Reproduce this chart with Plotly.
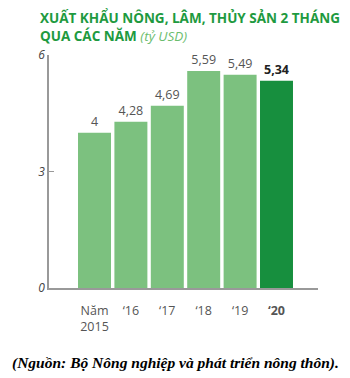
import plotly.graph_objects as go

categories = ["Năm<br>2015", "‘16", "‘17", "‘18", "‘19", "<b>‘20</b>"]
values = [4, 4.28, 4.69, 5.59, 5.49, 5.34]
y_ticks = [0, 3, 6]

light = "#7cc17f"
dark = "#178f3e"
colors = [light] * 5 + [dark]
texts = [f"{v:g}".replace(".", ",") for v in values]
texts[-1] = f"<b>{texts[-1]}</b>"
text_colors = ["#555555"] * 5 + ["#222222"]

fig = go.Figure(go.Bar(
    x=list(range(len(values))),
    y=values,
    marker=dict(color=colors, line=dict(width=0)),
    text=texts,
    textposition="outside",
    textfont=dict(family="Open Sans", size=12.5, color=text_colors),
    cliponaxis=False,
    hoverinfo="skip",
))

PL, PR, PT, PB = 49, 318, 55, 288
W, H = PR - PL, PB - PT

fig.update_layout(
    width=350, height=378,
    margin=dict(l=PL, r=350 - PR, t=PT, b=378 - PB),
    paper_bgcolor="white", plot_bgcolor="white",
    bargap=0.094,
    showlegend=False,
    xaxis=dict(
        range=[-1.25, 6.14],
        tickmode="array", tickvals=list(range(len(values))), ticktext=categories,
        showline=True, linecolor="#999999", linewidth=1.5,
        ticks="", showgrid=False, zeroline=False,
        tickfont=dict(family="Open Sans", size=12.5, color="#555555"),
        ticklabelstandoff=10,
    ),
    yaxis=dict(
        range=[0, 6],
        tickvals=y_ticks, ticktext=[str(t) for t in y_ticks],
        showline=True, linecolor="#999999", linewidth=1.5,
        ticks="inside", ticklen=5, tickcolor="#999999", tickwidth=1,
        showgrid=False, zeroline=False,
        tickfont=dict(family="Open Sans", size=12, color="#444444", style="italic"),
    ),
    annotations=[
        dict(
            text="<b>XUẤT KHẨU NÔNG, LÂM, THỦY SẢN 2 THÁNG<br>QUA CÁC NĂM</b> <i><span style='color:#6bbd6e'>(tỷ USD)</span></i>",
            xref="paper", yref="paper",
            x=(38 - PL) / W, y=(PB - 6) / H,
            xanchor="left", yanchor="top", align="left", showarrow=False,
            font=dict(family="Open Sans", size=13.5, color="#1e9a40"),
        ),
        dict(
            text="<b><i>(Nguồn: Bộ Nông nghiệp và phát triển nông thôn).</i></b>",
            xref="paper", yref="paper",
            x=(175 - PL) / W, y=(PB - 363) / H,
            xanchor="center", yanchor="middle", showarrow=False,
            font=dict(family="Liberation Serif", size=15.5, color="#000000"),
        ),
    ],
)

fig.write_html("out.html")
